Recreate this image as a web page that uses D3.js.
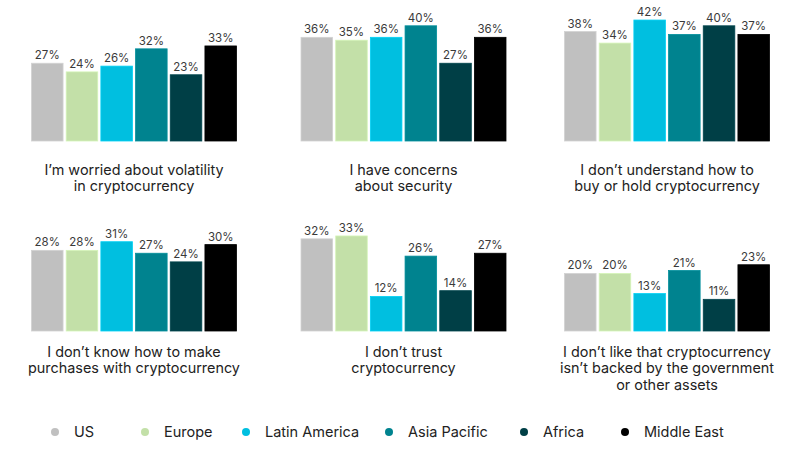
<!DOCTYPE html>
<html>
<head>
<meta charset="utf-8">
<script src="https://cdn.jsdelivr.net/npm/d3@7"></script>
<style>
  html, body { margin: 0; padding: 0; background: #fff; }
  svg { display: block; font-family: Inter, "Noto Sans", sans-serif; }
</style>
</head>
<body>
<svg id="chart" width="800" height="455"></svg>
<script>
// ---- data ----
const regions = ["US", "Europe", "Latin America", "Asia Pacific", "Africa", "Middle East"];
const colors = ["#c0c0c0", "#c3e0a8", "#00bfe0", "#00838f", "#003f46", "#000000"];

const titles = [
  ["I’m worried about volatility", "in cryptocurrency"],
  ["I have concerns", "about security"],
  ["I don’t understand how to", "buy or hold cryptocurrency"],
  ["I don’t know how to make", "purchases with cryptocurrency"],
  ["I don’t trust", "cryptocurrency"],
  ["I don’t like that cryptocurrency", "isn’t backed by the government", "or other assets"]
];

const volatility = [27, 24, 26, 32, 23, 33];
const security   = [36, 35, 36, 40, 27, 36];
const understand = [38, 34, 42, 37, 40, 37];
const purchases  = [28, 28, 31, 27, 24, 30];
const trust      = [32, 33, 12, 26, 14, 27];
const backed     = [20, 20, 13, 21, 11, 23];
const panelValues = [volatility, security, understand, purchases, trust, backed];

// ---- layout ----
const svg = d3.select("#chart");
const panelX = [31.5, 301, 564.5];
const baselines = [141, 331];
const titleY = [174.5, 356.5];
const panelW = 205;
const lineH = 16.8;

panelValues.forEach((vals, i) => {
  const col = i % 3, row = Math.floor(i / 3);
  const x0 = panelX[col];
  const base = baselines[row];
  const x = d3.scaleBand().domain(regions).range([x0, x0 + panelW]).paddingInner(0.09).paddingOuter(0);
  const y = d3.scaleLinear().domain([0, 50]).range([base, base - 144]);
  const g = svg.append("g");
  const data = regions.map((r, k) => ({ r, v: vals[k], c: colors[k] }));

  g.selectAll("rect").data(data).join("rect")
    .attr("x", d => x(d.r))
    .attr("y", d => y(d.v))
    .attr("width", x.bandwidth())
    .attr("height", d => y(0) - y(d.v))
    .attr("fill", d => d.c)
    .attr("stroke", d => d3.color(d.c).brighter(0.25))
    .attr("stroke-width", 0.8);

  g.selectAll("text.val").data(data).join("text")
    .attr("class", "val")
    .attr("x", d => x(d.r) + x.bandwidth() / 2)
    .attr("y", d => y(d.v) - 4)
    .attr("text-anchor", "middle")
    .attr("font-size", 11.5)
    .attr("fill", "#3a3a3a")
    .text(d => d.v + "%");

  const t = g.append("text")
    .attr("text-anchor", "middle")
    .attr("font-size", 14.4)
    .attr("fill", "#222");
  titles[i].forEach((line, k) => {
    t.append("tspan")
      .attr("x", x0 + panelW / 2)
      .attr("y", titleY[row] + k * lineH)
      .text(line);
  });
});

// ---- legend ----
const legendX = [55, 145, 246, 389, 524, 625];
const legend = svg.append("g");
regions.forEach((r, k) => {
  legend.append("circle")
    .attr("cx", legendX[k]).attr("cy", 432).attr("r", 4)
    .attr("fill", colors[k]);
  legend.append("text")
    .attr("x", legendX[k] + 19).attr("y", 437)
    .attr("font-size", 14.5).attr("fill", "#222")
    .text(r);
});
</script>
</body>
</html>
